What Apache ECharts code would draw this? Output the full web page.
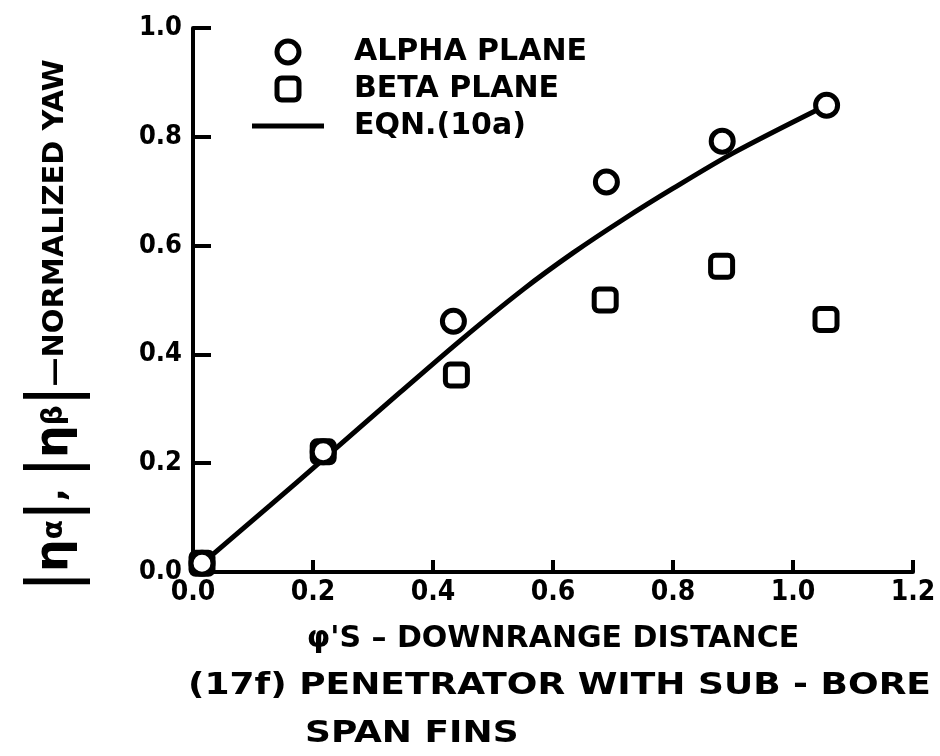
<!DOCTYPE html>
<html>
<head>
<meta charset="utf-8">
<script src="https://cdn.jsdelivr.net/npm/echarts@6/dist/echarts.min.js"></script>
<style>
  html, body { margin: 0; padding: 0; background: #fff; }
  #chart { width: 940px; height: 756px; }
</style>
</head>
<body>
<div id="chart"></div>
<script>
// values
const alphaX = [0.015, 0.217, 0.434, 0.689, 0.882, 1.056];
const alphaY = [0.016, 0.221, 0.461, 0.717, 0.792, 0.858];
const betaX = [0.015, 0.217, 0.439, 0.687, 0.881, 1.055];
const betaY = [0.016, 0.221, 0.362, 0.500, 0.562, 0.464];
const eqnX = [0.02, 0.128, 0.217, 0.345, 0.445, 0.551, 0.634, 0.717, 0.80, 0.90, 1.045];
const eqnY = [0.02, 0.122, 0.207, 0.33, 0.425, 0.52, 0.587, 0.648, 0.705, 0.77, 0.852];

const xTicks = [0, 0.2, 0.4, 0.6, 0.8, 1.0, 1.2];
const yTicks = [0, 0.2, 0.4, 0.6, 0.8, 1.0];

const seriesNames = ["ALPHA PLANE", "BETA PLANE", "EQN.(10a)"];
const xTitle = "φ'S – DOWNRANGE DISTANCE";
const captionLines = ["(17f) PENETRATOR WITH SUB - BORE", "SPAN FINS"];

const FONT = '"DejaVu Sans", sans-serif';
const TICK_FONT = '"DejaVu Sans Condensed", "DejaVu Sans", sans-serif';
const pair = (xs, ys) => xs.map((x, i) => [x, ys[i]]);
const roundSquare = "path://M3,0 H11 A3,3 0 0 1 14,3 V11 A3,3 0 0 1 11,14 H3 A3,3 0 0 1 0,11 V3 A3,3 0 0 1 3,0 Z";
const hLine = "path://M0,0 H72 V5 H0 Z";

const chart = echarts.init(document.getElementById("chart"), null, { renderer: "canvas" });

const option = {
  backgroundColor: "#fff",
  animation: false,
  grid: { left: 193, right: 27, top: 28, bottom: 184 },
  legend: {
    orient: "vertical",
    left: 247,
    top: 32,
    itemWidth: 72,
    itemHeight: 22,
    itemGap: 7,
    selectedMode: false,
    textStyle: { fontFamily: FONT, fontWeight: "bold", fontSize: 30, color: "#000", padding: [0, 0, 0, 25] },
    data: [
      { name: seriesNames[0], icon: "circle", itemStyle: { color: "#fff", borderColor: "#000", borderWidth: 5 } },
      { name: seriesNames[1], icon: roundSquare, itemStyle: { color: "#fff", borderColor: "#000", borderWidth: 5 } },
      { name: seriesNames[2], icon: hLine, itemStyle: { color: "#000", borderWidth: 0 } },
    ],
  },
  xAxis: {
    type: "value",
    min: 0,
    max: 1.2,
    interval: 0.2,
    name: xTitle,
    nameLocation: "middle",
    nameGap: 52,
    nameTextStyle: { fontFamily: FONT, fontWeight: "bold", fontSize: 30, color: "#000" },
    axisLine: { lineStyle: { color: "#000", width: 4 } },
    axisTick: { inside: true, length: 12, lineStyle: { color: "#000", width: 4 } },
    axisLabel: {
      margin: 7,
      fontFamily: TICK_FONT, fontWeight: "bold", fontSize: 28, color: "#000",
      formatter: (v) => xTicks.find((t) => Math.abs(t - v) < 1e-6).toFixed(1),
    },
    splitLine: { show: false },
  },
  yAxis: {
    type: "value",
    min: 0,
    max: 1.0,
    interval: 0.2,
    name: "{bar||}{eta|η}{sub|α}{bar||}{com|, }{bar||}{eta|η}{sub|β}{bar||}{small|—NORMALIZED YAW}",
    nameLocation: "middle",
    nameRotate: 90,
    nameGap: 102,
    nameTextStyle: {
      color: "#000",
      padding: [0, 50, 0, 0],
      rich: {
        bar: { fontFamily: '"Liberation Sans", sans-serif', fontSize: 72, color: "#000" },
        eta: { fontFamily: FONT, fontWeight: "bold", fontSize: 46, color: "#000" },
        com: { fontFamily: FONT, fontWeight: "bold", fontSize: 34, color: "#000" },
        sub: { fontFamily: FONT, fontWeight: "bold", fontSize: 28, color: "#000" },
        small: { fontFamily: FONT, fontWeight: "bold", fontSize: 29, color: "#000" },
      },
    },
    axisLine: { lineStyle: { color: "#000", width: 4 } },
    axisTick: { inside: true, length: 18, lineStyle: { color: "#000", width: 4 } },
    axisLabel: {
      margin: 11,
      fontFamily: TICK_FONT, fontWeight: "bold", fontSize: 27, color: "#000",
      formatter: (v) => yTicks.find((t) => Math.abs(t - v) < 1e-6).toFixed(1),
    },
    splitLine: { show: false },
  },
  series: [
    {
      name: seriesNames[2],
      type: "line",
      data: pair(eqnX, eqnY),
      smooth: 0.3,
      symbol: "none",
      lineStyle: { color: "#000", width: 5 },
      itemStyle: { color: "#000" },
      z: 2,
    },
    {
      name: seriesNames[1],
      type: "scatter",
      data: pair(betaX, betaY),
      symbol: roundSquare,
      symbolSize: 22,
      itemStyle: { color: "#fff", borderColor: "#000", borderWidth: 5, opacity: 1 },
      z: 3,
    },
    {
      name: seriesNames[0],
      type: "scatter",
      data: pair(alphaX, alphaY),
      symbol: "circle",
      symbolSize: 22,
      itemStyle: { color: "#fff", borderColor: "#000", borderWidth: 5, opacity: 1 },
      z: 4,
    },
  ],
  graphic: [
    {
      type: "text", x: 188, y: 686, scaleX: 1.2,
      style: { text: captionLines[0], font: 'bold 30px "DejaVu Sans"', fill: "#000", verticalAlign: "middle" },
    },
    {
      type: "text", x: 305, y: 734, scaleX: 1.2,
      style: { text: captionLines[1], font: 'bold 30px "DejaVu Sans"', fill: "#000", verticalAlign: "middle" },
    },
  ],
};

chart.setOption(option);
</script>
</body>
</html>
